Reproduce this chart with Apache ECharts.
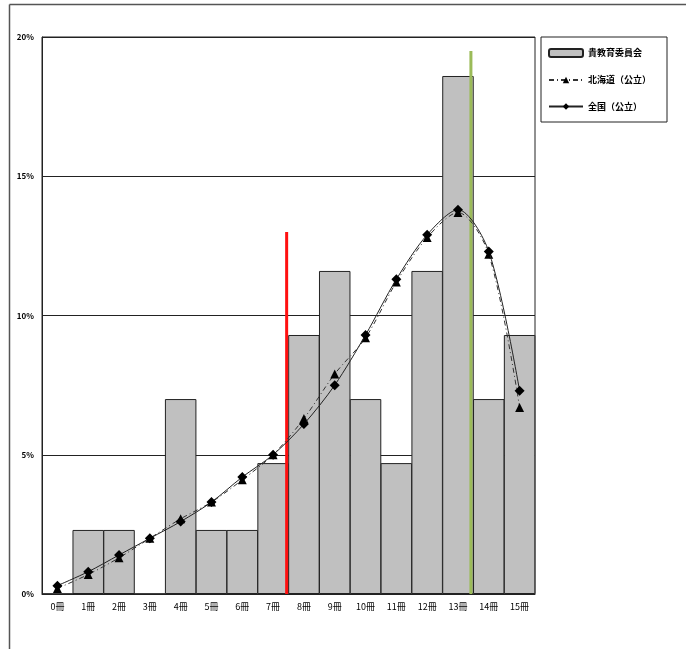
<!DOCTYPE html>
<html><head><meta charset="utf-8">
<script src="https://cdn.jsdelivr.net/npm/echarts@6/dist/echarts.min.js"></script>
<style>html,body{margin:0;padding:0;background:#fff}#c{width:686px;height:649px}</style>
</head><body><div id="c"></div>
<script>
const categories = ['0冊','1冊','2冊','3冊','4冊','5冊','6冊','7冊','8冊','9冊','10冊','11冊','12冊','13冊','14冊','15冊'];
const boardValues = [0, 2.3, 2.3, 0, 7.0, 2.3, 2.3, 4.7, 9.3, 11.6, 7.0, 4.7, 11.6, 18.6, 7.0, 9.3];
const hokkaidoValues = [0.2, 0.7, 1.3, 2.0, 2.7, 3.3, 4.1, 5.0, 6.3, 7.9, 9.2, 11.2, 12.8, 13.7, 12.2, 6.7];
const nationalValues = [0.3, 0.8, 1.4, 2.0, 2.6, 3.3, 4.2, 5.0, 6.1, 7.5, 9.3, 11.3, 12.9, 13.8, 12.3, 7.3];
const yTicks = [0, 5, 10, 15, 20];
const redMarker = { x: 7.94, top: 13.0 };
const greenMarker = { x: 13.92, top: 19.5 };
const seriesNames = ['貴教育委員会', '北海道（公立）', '全国（公立）'];

const font = '"Noto Sans CJK JP", "DejaVu Sans", sans-serif';
const chart = echarts.init(document.getElementById('c'), null, {renderer: 'canvas'});
chart.setOption({
  animation: false,
  backgroundColor: '#fff',
  graphic: [
    {type: 'line', shape: {x1: 9.5, y1: 4.5, x2: 686, y2: 4.5}, style: {stroke: '#555', lineWidth: 1.5}},
    {type: 'line', shape: {x1: 9.5, y1: 4.5, x2: 9.5, y2: 649}, style: {stroke: '#555', lineWidth: 1.5}}
  ],
  grid: {left: 42, top: 37, width: 493, height: 557, show: true, borderColor: '#222', borderWidth: 1, backgroundColor: 'transparent'},
  legend: {
    left: 541, top: 37, orient: 'vertical',
    data: seriesNames,
    borderColor: '#222', borderWidth: 1, padding: [11, 16, 11, 7], itemGap: 17.5,
    itemWidth: 34, itemHeight: 8,
    textStyle: {fontFamily: font, fontSize: 9, color: '#000', fontWeight: 'bold'}
  },
  xAxis: [
    {type: 'category', data: categories, boundaryGap: true,
     axisLine: {show: true, lineStyle: {color: '#222'}}, axisTick: {show: false},
     axisLabel: {fontFamily: font, fontSize: 9, color: '#000', margin: 8, interval: 0}},
    {type: 'value', min: 0, max: 16, show: false}
  ],
  yAxis: {
    type: 'value', min: yTicks[0], max: yTicks[yTicks.length - 1], interval: 5,
    axisLine: {show: true, lineStyle: {color: '#222'}}, axisTick: {show: false},
    splitLine: {show: true, lineStyle: {color: '#222', width: 1}},
    axisLabel: {formatter: '{value}%', fontFamily: font, fontSize: 8, color: '#000', fontWeight: 'bold', margin: 8}
  },
  series: [
    {name: seriesNames[0], type: 'bar', data: boardValues, barWidth: 31.5, barGap: '0%',
     itemStyle: {color: '#C0C0C0', borderColor: '#222', borderWidth: 1}},
    {type: 'line', xAxisIndex: 1, data: [[redMarker.x, 0], [redMarker.x, redMarker.top]], symbol: 'none',
     lineStyle: {color: '#FF1010', width: 3}, silent: true, z: 3},
    {type: 'line', xAxisIndex: 1, data: [[greenMarker.x, 0], [greenMarker.x, greenMarker.top]], symbol: 'none',
     lineStyle: {color: '#9BBB59', width: 3}, silent: true, z: 3},
    {name: seriesNames[1], type: 'line', data: hokkaidoValues, smooth: 0.3, symbol: 'triangle', symbolSize: 9,
     lineStyle: {color: '#333', width: 1, type: [5, 3, 1, 3]}, itemStyle: {color: '#000'}, z: 4},
    {name: seriesNames[2], type: 'line', data: nationalValues, smooth: 0.3, symbol: 'diamond', symbolSize: 10,
     lineStyle: {color: '#222', width: 1}, itemStyle: {color: '#000'}, z: 5}
  ]
});
</script></body></html>
